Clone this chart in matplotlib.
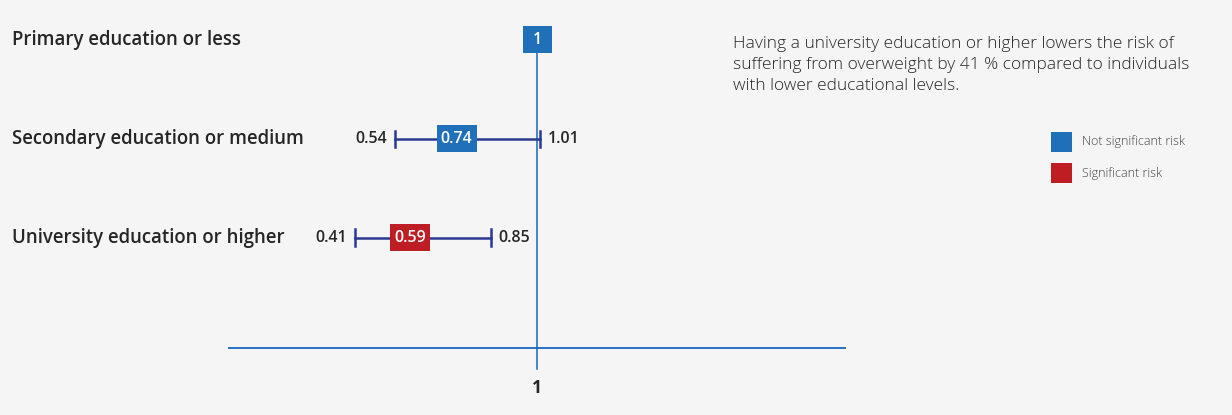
import matplotlib.pyplot as plt
from matplotlib.patches import Rectangle

plt.rcParams['font.family'] = ['Open Sans', 'DejaVu Sans']

# Odds ratios by educational level
levels = ["Primary education or less",
          "Secondary education or medium",
          "University education or higher"]
odds = [1.0, 0.74, 0.59]
lower = [None, 0.54, 0.41]
upper = [None, 1.01, 0.85]
significant = [False, False, True]
value_labels = ["1", "0.74", "0.59"]

note = ("Having a university education or higher lowers the risk of\n"
        "suffering from overweight by 41 % compared to individuals\n"
        "with lower educational levels.")
legend_labels = ["Not significant risk", "Significant risk"]

bg = "#f5f5f5"
blue = "#1f6fb9"
red = "#be1e23"
navy = "#2b3990"
axis_blue = "#1565c0"
dark = "#262626"

W, H = 1232, 415
fig = plt.figure(figsize=(W / 100, H / 100), dpi=100, facecolor=bg)

# plot area spans x = 0..2, rows at y = 0, 1, 2
x0, x1 = 228, 846
ax = fig.add_axes([x0 / W, 0, (x1 - x0) / W, 1])
ax.set_facecolor(bg)
ax.set_xlim(0, 2)
ax.set_ylim(3.79, -0.404)
ax.axis("off")

px_x = 2 / (x1 - x0)     # data units per pixel, horizontal
px_y = 4.194 / H         # data units per pixel, vertical

ax.axhline(3.11, color=axis_blue, lw=1.3, xmin=0, xmax=1)
ax.plot([1, 1], [0, 3.33], color=axis_blue, lw=1.1, zorder=1)
ax.text(1, 3.52, "1", ha="center", va="center", fontsize=12.5,
        fontweight="bold", color=dark)

for i, (o, lo, hi, sig, lab) in enumerate(zip(odds, lower, upper, significant, value_labels)):
    if lo is not None:
        ax.plot([lo, hi], [i, i], color=navy, lw=1.8, zorder=2)
        ax.plot([lo, lo], [i - 0.085, i + 0.085], color=navy, lw=1.8, zorder=2)
        ax.plot([hi, hi], [i - 0.085, i + 0.085], color=navy, lw=1.8, zorder=2)
        ax.text(lo - 0.025, i, f"{lo:.2f}", ha="right", va="center",
                fontsize=11.5, fontweight="semibold", color=dark)
        ax.text(hi + 0.025, i, f"{hi:.2f}", ha="left", va="center",
                fontsize=11.5, fontweight="semibold", color=dark)
    bw = (29 if len(lab) == 1 else 40) * px_x
    bh = 27 * px_y
    ax.add_patch(Rectangle((o - bw / 2, i - bh / 2), bw, bh,
                           fc=red if sig else blue, ec="none", zorder=3))
    ax.text(o, i, lab, ha="center", va="center", fontsize=11.5,
            fontweight="semibold", color="white", zorder=4)
    fig.text(12 / W, 1 - (40 + 99 * i) / H, levels[i], ha="left", va="center",
             fontsize=13.4, fontweight="semibold", color=dark)

fig.text(733 / W, 1 - 36 / H, note, ha="left", va="top", fontsize=12.5,
         fontweight="light", color="#262626", linespacing=1.4)

for j, (lab, c) in enumerate(zip(legend_labels, [blue, red])):
    yc = 142 + 31 * j
    fig.patches.append(Rectangle((1051 / W, 1 - (yc + 10) / H), 21 / W, 20 / H,
                                 transform=fig.transFigure, fc=c, ec="none"))
    fig.text(1082 / W, 1 - yc / H, lab, ha="left", va="center",
             fontsize=9, fontweight="light", color="#444444")

plt.savefig("out.png", dpi=100, facecolor=bg)
